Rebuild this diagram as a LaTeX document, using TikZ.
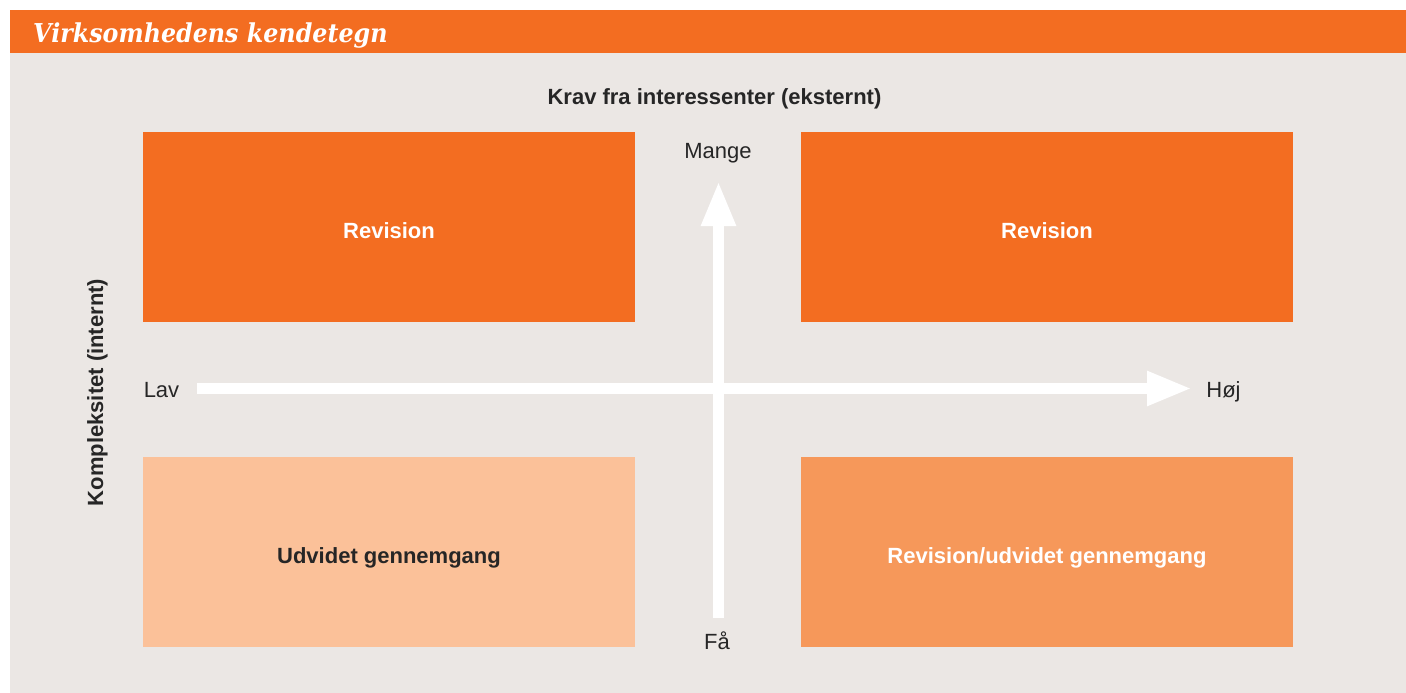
\documentclass[tikz,border=0pt]{standalone}
\usepackage{fontspec}
\setmainfont{Liberation Sans}
\newfontfamily\titlefont{DejaVu Serif}
\usetikzlibrary{arrows.meta}

\definecolor{pwcorange}{RGB}{243,109,33}
\definecolor{pwclight}{RGB}{251,193,153}
\definecolor{pwcmid}{RGB}{246,152,90}
\definecolor{panelbg}{RGB}{235,231,228}
\definecolor{txtgray}{RGB}{38,38,38}

\tikzset{
  quad/.style={minimum width=492pt, minimum height=190pt, inner sep=0pt, text height=23pt, text depth=0pt,
    font=\fontsize{22}{24}\selectfont\bfseries},
  lbl/.style={anchor=base, inner sep=0pt, text=txtgray, font=\fontsize{22}{24}\selectfont},
  bigarrow/.style={white, line width=11pt, -{Triangle[width=32pt,length=45pt]}}
}

\begin{document}
\begin{tikzpicture}[x=1pt, y=-1pt]
\useasboundingbox (0,0) rectangle (1406,693);
\fill[pwcorange] (10,10) rectangle (1406,53);
\fill[panelbg] (10,53) rectangle (1406,693);
\node[anchor=base west, inner sep=0pt, text=white, font=\titlefont\fontsize{26}{28}\selectfont\bfseries\itshape] (title) at (33,42.5) {\scalebox{0.915}[1]{Virksomhedens kendetegn}};

% the four fields
\node[quad, fill=pwcorange, text=white] (q1) at (389,227) {Revision};
\node[quad, fill=pwcorange, text=white] (q2) at (1047,227) {Revision};
\node[quad, fill=pwclight, text=txtgray] (q3) at (389,552) {Udvidet gennemgang};
\node[quad, fill=pwcmid, text=white] (q4) at (1047,552) {Revision/udvidet gennemgang};

% axes
\node[lbl, font=\fontsize{22}{24}\selectfont\bfseries] (krav) at (714.5,104.7) {Krav fra interessenter (eksternt)};
\node[lbl, font=\fontsize{22}{24}\selectfont\bfseries, rotate=90] (kompl) at (103,392.5) {Kompleksitet (internt)};
\node[lbl] (mange) at (718,158) {Mange};
\node[lbl] (fa) at (717,649) {Få};
\node[lbl] (lav) at (161.5,397) {Lav};
\node[lbl] (hoj) at (1223.5,397) {Høj};

\coordinate (ybot) at (718.5,618);
\coordinate (ytop) at (718.5,181);
\coordinate (xleft) at (197,388.5);
\coordinate (xright) at (1192,388.5);
\draw[bigarrow] (ybot) -- (ytop);
\draw[bigarrow] (xleft) -- (xright);
\end{tikzpicture}
\end{document}
